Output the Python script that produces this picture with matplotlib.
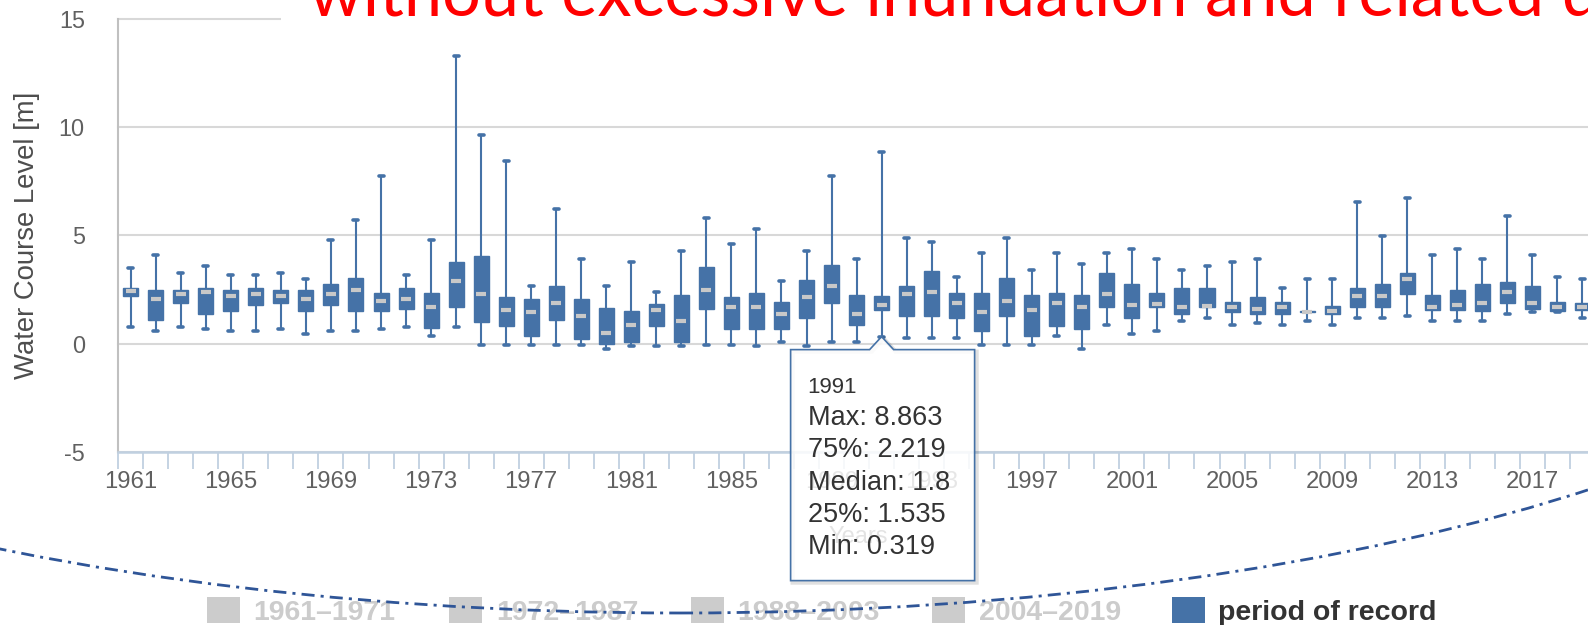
import matplotlib
matplotlib.use("Agg")
import matplotlib.pyplot as plt
import numpy as np
from matplotlib import font_manager
from matplotlib.patches import Rectangle, PathPatch, Ellipse
from matplotlib.path import Path
from matplotlib.transforms import IdentityTransform

W, H, DPI = 1588, 625, 100

# ---------------- data ----------------
years = list(range(1961, 2020))
maxima = [3.48, 4.09, 3.28, 3.58, 3.17, 3.17, 3.28, 2.97, 4.79, 5.71,
          7.73, 3.17, 4.79, 13.28, 9.64, 8.43, 2.67, 6.21, 3.89, 2.67,
          3.79, 2.38, 4.29, 5.80, 4.59, 5.30, 2.88, 4.29, 7.73, 3.89,
          8.863, 4.90, 4.70, 3.08, 4.20, 4.90, 3.39, 4.20, 3.69, 4.20,
          4.39, 3.89, 3.39, 3.58, 3.79, 3.89, 2.57, 2.97, 2.97, 6.52,
          4.99, 6.72, 4.09, 4.39, 3.89, 5.91, 4.09, 3.08, 2.97]
q3 = [2.55, 2.46, 2.46, 2.55, 2.46, 2.55, 2.46, 2.46, 2.74, 3.05,
      2.35, 2.55, 2.35, 3.78, 4.06, 2.15, 2.05, 2.64, 2.05, 1.63,
      1.52, 1.84, 2.22, 3.53, 2.15, 2.35, 1.94, 2.95, 3.65, 2.22,
      2.219, 2.64, 3.36, 2.35, 2.35, 3.05, 2.22, 2.35, 2.22, 3.25,
      2.74, 2.35, 2.55, 2.55, 1.94, 2.15, 1.94, 1.50, 1.73, 2.55,
      2.74, 3.25, 2.22, 2.46, 2.74, 2.85, 2.64, 1.94, 1.88]
medians = [2.45, 2.08, 2.27, 2.36, 2.18, 2.27, 2.18, 2.08, 2.27, 2.47,
           1.98, 2.08, 1.68, 2.88, 2.27, 1.57, 1.46, 1.88, 1.26, 0.47,
           0.86, 1.57, 1.06, 2.47, 1.68, 1.68, 1.37, 2.16, 2.67, 1.37,
           1.8, 2.27, 2.36, 1.88, 1.46, 1.98, 1.57, 1.88, 1.68, 2.27,
           1.77, 1.83, 1.68, 1.73, 1.68, 1.60, 1.68, 1.46, 1.49, 2.18,
           2.18, 2.97, 1.68, 1.79, 1.88, 2.38, 1.88, 1.68, 1.68]
q1 = [2.19, 1.10, 1.88, 1.38, 1.49, 1.79, 1.88, 1.49, 1.79, 1.49,
      1.49, 1.60, 0.70, 1.70, 0.98, 0.79, 0.37, 1.09, 0.19, -0.02,
      0.08, 0.79, 0.08, 1.60, 0.68, 0.68, 0.68, 1.18, 1.88, 0.86,
      1.535, 1.29, 1.29, 1.20, 0.59, 1.29, 0.37, 0.79, 0.68, 1.68,
      1.20, 1.68, 1.38, 1.68, 1.46, 1.38, 1.38, 1.44, 1.38, 1.68,
      1.68, 2.30, 1.57, 1.57, 1.49, 1.88, 1.60, 1.49, 1.57]
minima = [0.78, 0.56, 0.78, 0.67, 0.56, 0.56, 0.67, 0.45, 0.56, 0.56,
          0.67, 0.78, 0.37, 0.78, -0.05, -0.05, -0.05, -0.05, -0.05, -0.25,
          -0.12, -0.12, -0.12, -0.05, -0.05, -0.12, 0.05, -0.12, 0.05, 0.05,
          0.319, 0.25, 0.25, 0.25, -0.05, -0.05, -0.05, 0.37, -0.25, 0.86,
          0.45, 0.56, 1.06, 1.17, 0.86, 0.95, 0.86, 1.06, 0.86, 1.17,
          1.17, 1.26, 1.06, 1.06, 1.06, 1.37, 1.46, 1.46, 1.17]
tick_years = list(range(1961, 2020, 4))
y_ticks = [-5, 0, 5, 10, 15]
legend_labels = ["1961–1971", "1972–1987", "1988–2003", "2004–2019", "period of record"]
tooltip_year = 1991
title_text = "without excessive inundation and related damage"
y_title = "Water Course Level [m]"
x_title = "Years"

BLUE = "#4572A7"
GRID = "#D8D8D8"
AXBLUE = "#C0D0E0"
LABEL = "#606060"

available = {f.name for f in font_manager.fontManager.ttflist}
def pick(*names):
    for n in names:
        if n in available:
            return n
    return "DejaVu Sans"
BASE = pick("Liberation Sans", "Arial", "DejaVu Sans")
TITLE_FONT = pick("Lato", "Open Sans", "Liberation Sans")
plt.rcParams["font.family"] = [BASE, "DejaVu Sans"]

fig = plt.figure(figsize=(W / DPI, H / DPI), dpi=DPI, facecolor="white")
renderer = fig.canvas.get_renderer()

def fx(x):
    return x / W
def fy(y):
    return 1 - y / H

# ---------------- axes ----------------
step = 25.03
left_px, top_px, bot_px = 118.2, 19.0, 451.7
n = len(years)
ax = fig.add_axes([fx(left_px), fy(bot_px), n * step / W, (bot_px - top_px) / H])
pos = np.arange(n)

stats = []
for i in range(n):
    stats.append(dict(med=medians[i], q1=q1[i], q3=q3[i],
                      whislo=minima[i], whishi=maxima[i], fliers=[]))
ax.bxp(stats, positions=pos, widths=0.6, patch_artist=True, showfliers=False,
       boxprops=dict(facecolor=BLUE, edgecolor=BLUE, linewidth=1.0),
       whiskerprops=dict(color=BLUE, linewidth=1.5),
       capprops=dict(color=BLUE, linewidth=2.6, solid_capstyle="round"),
       medianprops=dict(linewidth=0), capwidths=0.2, manage_ticks=False)
ax.hlines(medians, pos - 0.2, pos + 0.2, colors="#C8C8C8", linewidth=3, zorder=5)

ax.set_xlim(-0.5, n - 0.5)
ax.set_ylim(-5, 15)
ax.set_yticks(y_ticks)
ax.set_yticklabels([str(v) for v in y_ticks])
ax.yaxis.grid(True, color=GRID, linewidth=1.5)
for gl in ax.get_ygridlines():
    gl.set_clip_on(False)
ax.set_axisbelow(True)
for s in ("top", "right"):
    ax.spines[s].set_visible(False)
ax.spines["left"].set_color("#C0C0C0")
ax.spines["left"].set_linewidth(1.5)
ax.spines["bottom"].set_color(AXBLUE)
ax.spines["bottom"].set_linewidth(1.8)
ax.spines["bottom"].set_zorder(6)

ax.set_xticks([years.index(y) for y in tick_years])
ax.set_xticklabels([str(y) for y in tick_years])
ax.set_xticks(np.arange(-0.5, n, 1.0), minor=True)
ax.tick_params(axis="x", which="major", length=0, pad=14, labelsize=17.2, labelcolor=LABEL)
ax.tick_params(axis="x", which="minor", length=12, width=1.3, color=AXBLUE)
ax.tick_params(axis="y", length=0, pad=24, labelsize=16.8, labelcolor=LABEL)

def fit_size(s, target_w, family, weight="normal", base=10.0):
    t = fig.text(0, 0, s, fontsize=base, family=family, weight=weight)
    w = t.get_window_extent(renderer=renderer).width
    t.remove()
    return base * target_w / w

# axis titles
fs_yt = fit_size(y_title, 289, BASE)
fig.text(fx(27), fy(235.5), y_title, rotation=90, ha="center", va="center",
         fontsize=fs_yt, color="#4D4D4D")
fig.text(fx(858), fy(537), x_title, ha="center", va="center", fontsize=17,
         color="#4D4D4D")

# ---------------- title (slide text) ----------------
fig.patches.append(Rectangle((fx(281), fy(25)), 1 - fx(281), 25 / H,
                             transform=fig.transFigure, facecolor="white",
                             edgecolor="none", zorder=3))
fs_title = fit_size("without excessive inundation and related", 1238, TITLE_FONT)
fig.text(fx(309), fy(16), title_text, ha="left", va="baseline", color="#FF0000",
         family=TITLE_FONT, fontsize=fs_title, zorder=4)

# ---------------- tooltip ----------------
ti = years.index(tooltip_year)
xd, yd = ax.transData.transform((ti, minima[ti]))
ytop_pt = H - yd
bx0, bx1 = xd - 91, xd + 93
by0 = ytop_pt + 13
by1 = by0 + 231
def disp(x, y):
    return (x, H - y)
verts = [disp(bx0, by0), disp(xd - 12, by0), disp(xd, ytop_pt), disp(xd + 12, by0),
         disp(bx1, by0), disp(bx1, by1), disp(bx0, by1), disp(bx0, by0)]
codes = [Path.MOVETO] + [Path.LINETO] * 6 + [Path.CLOSEPOLY]
shadow_verts = [(x + 2, y - 2) for x, y in verts]
fig.add_artist(PathPatch(Path(shadow_verts, codes), transform=IdentityTransform(),
                         facecolor="none", edgecolor=(0, 0, 0, 0.12), linewidth=3, zorder=7))
fig.add_artist(PathPatch(Path(verts, codes), transform=IdentityTransform(),
                         facecolor=(1, 1, 1, 0.85), edgecolor=BLUE, linewidth=1.2, zorder=8))
tip_lines = [(str(tooltip_year), 16, 43),
             ("Max: " + str(maxima[ti]), 19.5, 75),
             ("75%: " + str(q3[ti]), 19.5, 107.5),
             ("Median: " + str(medians[ti]), 19.5, 140),
             ("25%: " + str(q1[ti]), 19.5, 172.3),
             ("Min: " + str(minima[ti]), 19.5, 204.6)]
for s, fsz, dy in tip_lines:
    fig.text(fx(bx0 + 17), fy(by0 + dy), s, ha="left", va="baseline",
             fontsize=fsz, color="#333333", zorder=9)

# ---------------- legend ----------------
sq_x = [206.6, 448.7, 690.7, 932.0, 1172.0]
tx_x = [253.0, 496.0, 737.0, 979.0, 1218.0]
for i, lab in enumerate(legend_labels):
    active = i == len(legend_labels) - 1
    col = BLUE if active else "#CCCCCC"
    tcol = "#333333" if active else "#CCCCCC"
    fig.patches.append(Rectangle((fx(sq_x[i]), fy(622.5)), 33 / W, 26 / H,
                                 transform=fig.transFigure, facecolor=col,
                                 edgecolor="none", zorder=5))
    fig.text(fx(tx_x[i]), fy(620), lab, ha="left", va="baseline", fontsize=20.5,
             weight="bold", color=tcol, zorder=5)

# ---------------- dash-dot arc (slide decoration) ----------------
arc = Ellipse((680, H - 180), 2600, 866, transform=IdentityTransform(),
              facecolor="none", edgecolor="#2F5597", linewidth=2.0, zorder=10)
arc.set_linestyle((0, (4.7, 2.2, 1.1, 2.2)))
fig.add_artist(arc)

fig.savefig("out.png", dpi=DPI, facecolor="white")
